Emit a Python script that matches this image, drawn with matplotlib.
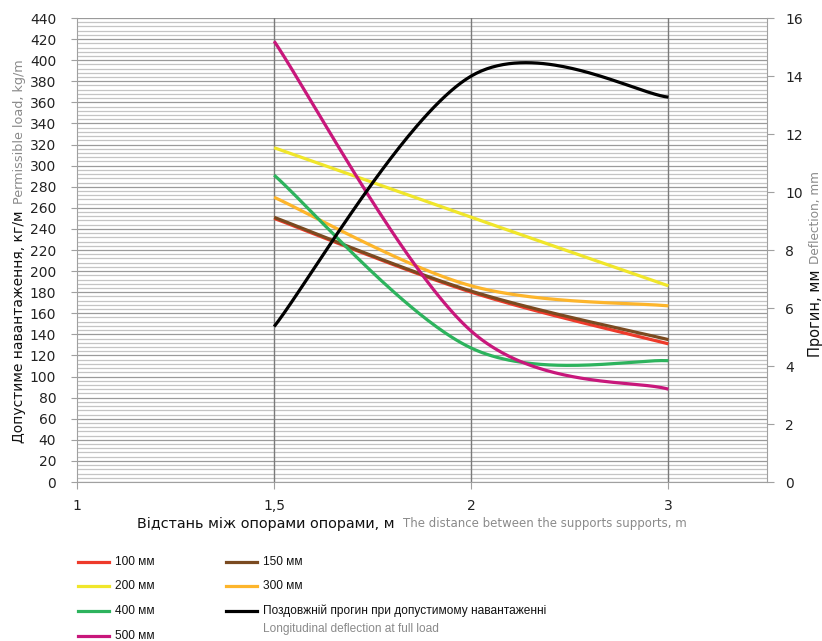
import numpy as np
import matplotlib
matplotlib.use('Agg')
import matplotlib.pyplot as plt
from matplotlib.lines import Line2D
from matplotlib.ticker import MultipleLocator
from matplotlib import font_manager as fm

# ---------------- data ----------------
categories = ['1', '1,5', '2', '3']
data_categories = ['1,5', '2', '3']
load_100 = [250, 180, 131]
load_150 = [251, 181, 135]
load_200 = [317, 251, 186]
load_300 = [270, 186, 167]
load_400 = [291, 127, 115]
load_500 = [418, 143, 88]
deflection = [5.36, 14.0, 13.27]

series_labels = ['100 мм', '150 мм', '200 мм', '300 мм', '400 мм', '500 мм']
series_values = [load_100, load_150, load_200, load_300, load_400, load_500]
series_colors = ['#ee3a2a', '#7a4a20', '#f0e62a', '#fdb52b', '#2db35d', '#c8177b']
defl_label_ua = 'Поздовжній прогин при допустимому навантаженні'
defl_label_en = 'Longitudinal deflection at full load'

GRAY = '#8a8a8a'
LW = 2.3


def smooth(xs, ys, n=80):
    """Excel-style smoothed line (Bezier through the data points)."""
    P = np.column_stack([xs, ys]).astype(float)
    Pe = np.vstack([P[0], P, P[-1]])
    out = []
    t = np.linspace(0, 1, n)[:, None]
    for i in range(len(P) - 1):
        p0, p3 = P[i], P[i + 1]
        c1 = p0 + (Pe[i + 2] - Pe[i]) / 6.0
        c2 = p3 - (Pe[i + 3] - Pe[i + 1]) / 6.0
        seg = (1 - t) ** 3 * p0 + 3 * (1 - t) ** 2 * t * c1 + 3 * (1 - t) * t ** 2 * c2 + t ** 3 * p3
        out.append(seg if i == 0 else seg[1:])
    s = np.vstack(out)
    return s[:, 0], s[:, 1]


def has_font(name):
    try:
        fm.findfont(fm.FontProperties(family=name), fallback_to_default=False)
        return True
    except Exception:
        return False


if has_font('Liberation Sans Narrow'):
    leg_font = ['Liberation Sans Narrow', 'DejaVu Sans']
    leg_size = 10
else:
    leg_font = ['Liberation Sans', 'DejaVu Sans']
    leg_size = 8.6

W, H = 822, 641
fig = plt.figure(figsize=(W / 100, H / 100), dpi=100)
ax = fig.add_axes([77 / W, 1 - 482 / H, (767 - 77) / W, (482 - 18) / H])
ax2 = ax.twinx()

xpos = [categories.index(c) for c in data_categories]

ax.set_xlim(0, 3.5)
ax.set_ylim(0, 440)
ax2.set_ylim(0, 16)

# grid
ax.yaxis.set_major_locator(MultipleLocator(20))
ax.yaxis.set_minor_locator(MultipleLocator(4))
ax.grid(which='minor', axis='y', color='#c4c4c4', lw=0.9, zorder=0.5)
ax.grid(which='major', axis='y', color='#9a9a9a', lw=0.9, zorder=0.6)
ax.set_xticks(range(len(categories)))
ax.set_xticklabels(categories)
for xt in ax.get_xticks()[1:]:
    ax.axvline(xt, color='#7a7a7a', lw=1.0, zorder=0.9)
ax.set_axisbelow(True)

for v, c in zip(series_values, series_colors):
    sx, sy = smooth(xpos, v)
    ax.plot(sx, sy, color=c, lw=LW, solid_capstyle='butt', zorder=2)

sx, sy = smooth(xpos, deflection)
ax2.plot(sx, sy, color='black', lw=LW, solid_capstyle='butt')
ax2.set_yticks(np.arange(0, 17, 2))

for a in (ax, ax2):
    for s in a.spines.values():
        s.set_visible(False)
ax.spines['left'].set_visible(True)
ax.spines['left'].set_color('#a0a0a0')
ax.spines['bottom'].set_visible(True)
ax.spines['bottom'].set_color('#a0a0a0')
ax2.spines['right'].set_visible(True)
ax2.spines['right'].set_color('#a0a0a0')

ax.tick_params(axis='y', which='major', length=4, color='#a0a0a0', pad=11, labelsize=10, labelcolor='#222222')
ax.tick_params(axis='y', which='minor', length=0)
ax.tick_params(axis='x', length=5, color='#a0a0a0', pad=7, labelsize=10, labelcolor='#222222')
ax2.tick_params(axis='y', length=5, color='#a0a0a0', pad=8, labelsize=10, labelcolor='#222222')

fig.canvas.draw()
r = fig.canvas.get_renderer()

# ---- left axis label (two colours, chained) ----
t1 = fig.text(19 / W, 1 - 443 / H, 'Допустиме навантаження, кг/м', rotation=90,
              ha='center', va='bottom', fontsize=10, color='#111111')
bb = t1.get_window_extent(r)
fig.text(19 / W, (bb.y1 + 6) / H, 'Permissible load, kg/m', rotation=90,
         ha='center', va='bottom', fontsize=9.2, color=GRAY)

# ---- right axis label ----
t2 = fig.text(815 / W, 1 - 357 / H, 'Прогин, мм', rotation=90,
              ha='center', va='bottom', fontsize=10.5, color='#111111')
bb = t2.get_window_extent(r)
fig.text(815 / W, (bb.y1 + 6) / H, 'Deflection, mm', rotation=90,
         ha='center', va='bottom', fontsize=8.7, color=GRAY)

# ---- x axis label ----
t3 = fig.text(137 / W, 1 - 524 / H, 'Відстань між опорами опорами, м',
              ha='left', va='center', fontsize=10.4, color='#111111')
bb = t3.get_window_extent(r)
fig.text((bb.x1 + 8) / W, 1 - 524 / H, 'The distance between the supports supports, m',
         ha='left', va='center', fontsize=8.5, color=GRAY)

# ---- legend ----
rows_y = [562, 586, 611, 636]
col1 = [(0, 0), (2, 1), (4, 2), (5, 3)]
col2 = [(1, 0), (3, 1)]


def legend_item(x0, y, color, label):
    fig.add_artist(Line2D([x0 / W, (x0 + 31) / W], [1 - y / H, 1 - y / H],
                          transform=fig.transFigure, color=color, lw=LW))
    if label is not None:
        fig.text((x0 + 37) / W, 1 - y / H, label, ha='left', va='center',
                 fontsize=leg_size, family=leg_font, color='#111111')


for si, ri in col1:
    legend_item(78, rows_y[ri], series_colors[si], series_labels[si])
for si, ri in col2:
    legend_item(226, rows_y[ri], series_colors[si], series_labels[si])
legend_item(226, rows_y[2], 'black', defl_label_ua)
fig.text(263 / W, 1 - 629 / H, defl_label_en, ha='left', va='center',
         fontsize=leg_size, family=leg_font, color=GRAY)

fig.savefig('out.png', dpi=100)
